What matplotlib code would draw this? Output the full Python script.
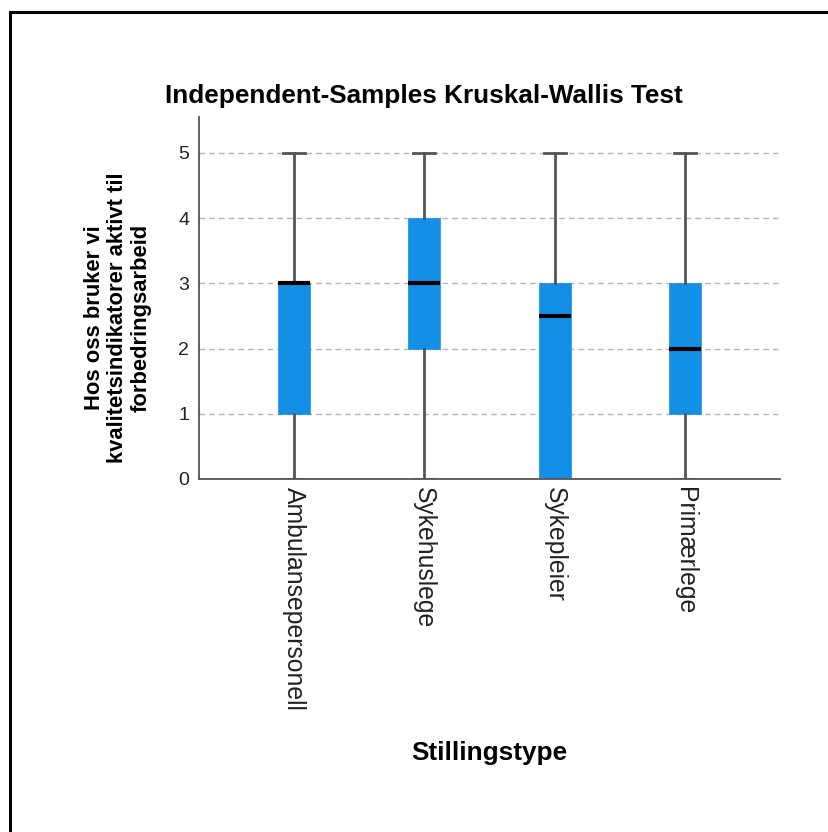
import matplotlib.pyplot as plt
from matplotlib.patches import Rectangle

plt.rcParams['font.family'] = ['Liberation Sans', 'DejaVu Sans']

# Fem-tallsoppsummering per stillingstype
groups = ['Ambulansepersonell', 'Sykehuslege', 'Sykepleier', 'Primærlege']
mins = [0, 0, 0, 0]
q1s = [1, 2, 0, 1]
medians = [3, 3, 2.5, 2]
q3s = [3, 4, 3, 3]
maxs = [5, 5, 5, 5]
yticks = [0, 1, 2, 3, 4, 5]

stats = [dict(label=g, whislo=lo, q1=a, med=m, q3=b, whishi=hi, fliers=[])
         for g, lo, a, m, b, hi in zip(groups, mins, q1s, medians, q3s, maxs)]

fig = plt.figure(figsize=(8.29, 8.32), dpi=100)
ax = fig.add_axes([0.240, 0.4243, 0.701, 0.4351])

ax.yaxis.grid(True, linestyle=(0, (4, 3)), color='#b4b4b4', lw=1)
ax.set_axisbelow(True)

ax.bxp(stats, positions=range(len(groups)), widths=0.245, capwidths=0.17,
       patch_artist=True, showfliers=False,
       boxprops=dict(facecolor='#1390e6', edgecolor='#1390e6', lw=0.5),
       medianprops=dict(color='black', lw=3, solid_capstyle='butt'),
       whiskerprops=dict(color='#555555', lw=2),
       capprops=dict(color='#555555', lw=2))

ax.set_xlim(-0.73, 3.73)
ax.set_ylim(0, 5.55)
ax.set_yticks(yticks)
ax.set_yticklabels([str(v) for v in yticks], fontsize=14, color='#222222')
ax.set_xticks(range(len(groups)))
ax.set_xticklabels(groups, rotation=-90, fontsize=17.8, color='#222222',
                   ha='center', va='top')
ax.tick_params(axis='both', length=0, pad=7)
ax.tick_params(axis='x', pad=6)

for side in ['top', 'right']:
    ax.spines[side].set_visible(False)
for side in ['left', 'bottom']:
    ax.spines[side].set_color('#555555')
    ax.spines[side].set_linewidth(1.3)

fig.text(424 / 829, 1 - 96 / 832, 'Independent-Samples Kruskal-Wallis Test',
         fontsize=18.8, fontweight='bold', ha='center', va='center')
fig.text(489 / 829, 1 - 753 / 832, 'Stillingstype', fontsize=18.8,
         fontweight='bold', ha='center', va='center')
fig.text(118 / 829, 1 - 318 / 832,
         'Hos oss bruker vi\nkvalitetsindikatorer aktivt til\nforbedringsarbeid',
         fontsize=15.8, fontweight='bold', ha='center', va='center',
         rotation=90, multialignment='center', linespacing=1.15)

# Ramme rundt figuren
fig.patches.append(Rectangle((10 / 829, -0.1), 1.2, 1.1 - 12 / 832,
                             transform=fig.transFigure, fill=False,
                             edgecolor='black', lw=2.2))

fig.savefig('out.png', dpi=100)
